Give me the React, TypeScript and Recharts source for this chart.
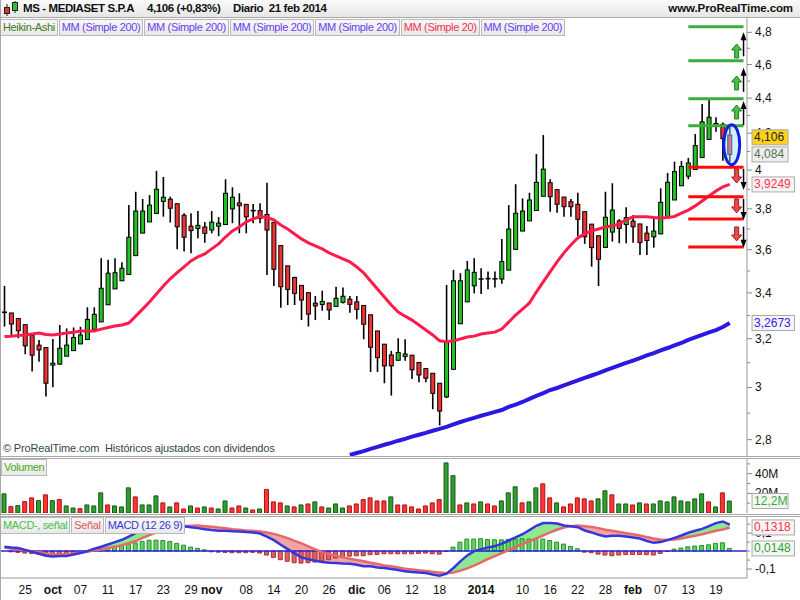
import React from 'react';
import {
  ComposedChart,
  Bar,
  Line,
  Area,
  XAxis,
  YAxis,
  ReferenceLine,
  ReferenceDot,
  Cell,
} from 'recharts';

// trading days, 20 sep 2013 -> 21 feb 2014
const dates = [
  '09-20', '09-23', '09-24', '09-25', '09-26', '09-27', '09-30',
  '10-01', '10-02', '10-03', '10-04', '10-07', '10-08', '10-09', '10-10', '10-11', '10-14', '10-15', '10-16',
  '10-17', '10-18', '10-21', '10-22', '10-23', '10-24', '10-25', '10-28', '10-29', '10-30', '10-31',
  '11-01', '11-04', '11-05', '11-06', '11-07', '11-08', '11-11', '11-12', '11-13', '11-14', '11-15',
  '11-18', '11-19', '11-20', '11-21', '11-22', '11-25', '11-26', '11-27', '11-28', '11-29',
  '12-02', '12-03', '12-04', '12-05', '12-06', '12-09', '12-10', '12-11', '12-12', '12-13',
  '12-16', '12-17', '12-18', '12-19', '12-20', '12-23', '12-27', '12-30',
  '01-02', '01-03', '01-06', '01-07', '01-08', '01-09', '01-10', '01-13', '01-14', '01-15', '01-16', '01-17',
  '01-20', '01-21', '01-22', '01-23', '01-24', '01-27', '01-28', '01-29', '01-30', '01-31',
  '02-03', '02-04', '02-05', '02-06', '02-07', '02-10', '02-11', '02-12', '02-13', '02-14',
  '02-17', '02-18', '02-19', '02-20', '02-21',
];

// Heikin-Ashi candles
const open = [
  3.314, 3.311, 3.287, 3.260, 3.215, 3.173, 3.163, 3.090, 3.094, 3.127,
  3.150, 3.178, 3.197, 3.240, 3.272, 3.347, 3.418, 3.455, 3.484, 3.572,
  3.680, 3.735, 3.777, 3.838, 3.849, 3.826, 3.768, 3.714, 3.703, 3.710,
  3.695, 3.714, 3.722, 3.800, 3.830, 3.823, 3.791, 3.791, 3.772, 3.733,
  3.620, 3.524, 3.470, 3.434, 3.401, 3.354, 3.348, 3.355, 3.340, 3.358,
  3.372, 3.360, 3.344, 3.303, 3.233, 3.177, 3.132, 3.110, 3.126, 3.131,
  3.101, 3.076, 3.057, 3.017, 2.963, 3.073, 3.264, 3.360, 3.432, 3.463,
  3.463, 3.464, 3.463, 3.504, 3.602, 3.690, 3.740, 3.792, 3.864, 3.934,
  3.898, 3.860, 3.836, 3.823, 3.786, 3.724, 3.667, 3.611, 3.685, 3.740,
  3.722, 3.739, 3.725, 3.680, 3.662, 3.676, 3.755, 3.845, 3.918, 3.968,
  4.003, 4.067, 4.166, 4.245, 4.250, 4.190,
];
const close = [
  3.314, 3.263, 3.234, 3.170, 3.131, 3.153, 3.017, 3.098, 3.160, 3.173,
  3.205, 3.216, 3.283, 3.305, 3.421, 3.490, 3.492, 3.513, 3.660, 3.789,
  3.789, 3.819, 3.900, 3.859, 3.803, 3.711, 3.660, 3.692, 3.718, 3.679,
  3.734, 3.729, 3.879, 3.859, 3.816, 3.760, 3.791, 3.753, 3.695, 3.508,
  3.428, 3.416, 3.398, 3.368, 3.306, 3.342, 3.362, 3.324, 3.376, 3.385,
  3.349, 3.327, 3.262, 3.164, 3.121, 3.087, 3.087, 3.142, 3.136, 3.071,
  3.050, 3.037, 2.977, 2.908, 3.184, 3.455, 3.455, 3.505, 3.494, 3.462,
  3.465, 3.462, 3.544, 3.700, 3.778, 3.789, 3.845, 3.936, 4.005, 3.862,
  3.823, 3.811, 3.811, 3.748, 3.662, 3.610, 3.555, 3.758, 3.794, 3.703,
  3.756, 3.711, 3.634, 3.644, 3.690, 3.833, 3.936, 3.992, 4.019, 4.038,
  4.132, 4.264, 4.290, 4.255, 4.170, 4.084,
];
const high = [
  3.432, 3.311, 3.287, 3.260, 3.223, 3.195, 3.163, 3.199, 3.259, 3.244,
  3.248, 3.251, 3.336, 3.336, 3.560, 3.552, 3.560, 3.541, 3.819, 3.887,
  3.850, 3.870, 3.996, 3.964, 3.862, 3.826, 3.778, 3.778, 3.789, 3.734,
  3.789, 3.759, 3.952, 3.910, 3.879, 3.823, 3.824, 3.828, 3.934, 3.733,
  3.620, 3.524, 3.474, 3.434, 3.401, 3.386, 3.410, 3.355, 3.428, 3.425,
  3.386, 3.386, 3.344, 3.303, 3.233, 3.177, 3.149, 3.202, 3.198, 3.131,
  3.101, 3.076, 3.057, 3.017, 3.436, 3.505, 3.490, 3.547, 3.560, 3.513,
  3.498, 3.498, 3.651, 3.819, 3.926, 3.853, 3.882, 4.086, 4.190, 3.952,
  3.898, 3.860, 3.850, 3.882, 3.786, 3.724, 3.667, 3.887, 3.931, 3.749,
  3.808, 3.769, 3.725, 3.715, 3.762, 3.905, 3.985, 4.045, 4.049, 4.065,
  4.196, 4.366, 4.389, 4.290, 4.260, 4.240,
];
const low = [
  3.252, 3.215, 3.202, 3.135, 3.064, 3.104, 2.964, 3.001, 3.094, 3.127,
  3.150, 3.178, 3.197, 3.240, 3.272, 3.347, 3.418, 3.455, 3.484, 3.572,
  3.680, 3.735, 3.777, 3.761, 3.732, 3.602, 3.591, 3.583, 3.655, 3.634,
  3.679, 3.665, 3.722, 3.729, 3.679, 3.679, 3.729, 3.729, 3.482, 3.431,
  3.334, 3.346, 3.346, 3.280, 3.252, 3.280, 3.321, 3.280, 3.340, 3.353,
  3.312, 3.283, 3.198, 3.062, 3.062, 3.017, 2.968, 3.110, 3.108, 3.034,
  3.021, 3.021, 2.915, 2.853, 2.958, 3.073, 3.264, 3.360, 3.398, 3.395,
  3.416, 3.425, 3.441, 3.504, 3.602, 3.690, 3.740, 3.792, 3.864, 3.786,
  3.781, 3.761, 3.761, 3.665, 3.628, 3.520, 3.431, 3.611, 3.639, 3.631,
  3.631, 3.634, 3.575, 3.575, 3.610, 3.676, 3.755, 3.845, 3.918, 3.952,
  4.003, 4.067, 4.166, 4.208, 4.050, 4.045,
];

const mm20 = [
  3.209, 3.211, 3.214, 3.216, 3.220, 3.224, 3.218, 3.216, 3.220, 3.224,
  3.228, 3.233, 3.233, 3.233, 3.241, 3.248, 3.254, 3.259, 3.267, 3.297,
  3.328, 3.359, 3.395, 3.431, 3.464, 3.492, 3.519, 3.547, 3.566, 3.580,
  3.604, 3.628, 3.661, 3.691, 3.710, 3.735, 3.750, 3.762, 3.757, 3.745,
  3.720, 3.700, 3.676, 3.652, 3.633, 3.618, 3.604, 3.585, 3.571, 3.557,
  3.543, 3.519, 3.492, 3.454, 3.418, 3.382, 3.346, 3.315, 3.297, 3.280,
  3.259, 3.237, 3.216, 3.191, 3.187, 3.191, 3.199, 3.207, 3.211, 3.220,
  3.224, 3.228, 3.241, 3.271, 3.302, 3.328, 3.355, 3.404, 3.450, 3.496,
  3.543, 3.585, 3.623, 3.657, 3.676, 3.691, 3.700, 3.710, 3.715, 3.725,
  3.745, 3.760, 3.760, 3.760, 3.757, 3.755, 3.757, 3.762, 3.779, 3.794,
  3.815, 3.840, 3.865, 3.891, 3.912, 3.925,
];
// only the visible part of the 200-day average
const mm200 = [
  null, null, null, null, null, null, null, null, null, null,
  null, null, null, null, null, null, null, null, null, null,
  null, null, null, null, null, null, null, null, null, null,
  null, null, null, null, null, null, null, null, null, null,
  null, null, null, null, null, null, null, null, null, null,
  2.744, 2.751, 2.758, 2.766, 2.773, 2.781, 2.788, 2.796, 2.803, 2.811,
  2.818, 2.825, 2.833, 2.840, 2.848, 2.857, 2.866, 2.874, 2.882, 2.890,
  2.897, 2.905, 2.912, 2.924, 2.933, 2.943, 2.955, 2.967, 2.978, 2.990,
  2.998, 3.008, 3.018, 3.028, 3.038, 3.048, 3.058, 3.069, 3.079, 3.089,
  3.099, 3.109, 3.119, 3.130, 3.140, 3.151, 3.161, 3.172, 3.182, 3.195,
  3.206, 3.216, 3.227, 3.237, 3.250, 3.267,
];

// volume in millions
const volume = [
  19.5, 6.5, 7.5, 11.6, 15.4, 12.6, 18.5, 12.6, 13.7, 7.2,
  5.1, 4.4, 8.2, 7.2, 20.5, 8.2, 7.2, 6.2, 25.6, 16.4,
  8.2, 8.2, 17.4, 10.3, 6.2, 10.3, 4.1, 7.2, 5.1, 6.2,
  5.1, 4.1, 12.3, 5.1, 7.2, 5.1, 3.1, 4.1, 24.0, 11.3,
  10.3, 7.2, 6.2, 8.2, 9.2, 11.3, 6.2, 5.1, 9.2, 5.1,
  7.2, 9.2, 13.7, 15.4, 12.3, 12.3, 16.4, 8.2, 8.2, 6.2,
  4.1, 7.2, 10.3, 13.7, 51.0, 38.0, 8.2, 10.3, 9.2, 11.3,
  9.2, 7.2, 12.3, 20.5, 26.7, 10.3, 11.3, 25.6, 29.7, 15.4,
  10.3, 6.2, 9.2, 15.4, 14.4, 12.3, 14.4, 22.6, 18.5, 9.2,
  9.2, 8.2, 10.3, 9.2, 9.2, 12.3, 11.3, 16.4, 12.3, 11.3,
  14.4, 19.5, 11.3, 6.2, 20.5, 12.2,
];
const volDir = [
  'G', 'R', 'G', 'R', 'R', 'G', 'R', 'G', 'R', 'G',
  'G', 'R', 'G', 'G', 'G', 'R', 'G', 'G', 'G', 'R',
  'G', 'G', 'G', 'R', 'G', 'R', 'R', 'G', 'R', 'G',
  'R', 'G', 'G', 'R', 'R', 'G', 'R', 'G', 'R', 'R',
  'R', 'G', 'R', 'G', 'R', 'G', 'R', 'G', 'G', 'G',
  'R', 'R', 'R', 'R', 'R', 'R', 'G', 'R', 'R', 'R',
  'R', 'R', 'R', 'R', 'G', 'G', 'R', 'G', 'R', 'G',
  'R', 'R', 'G', 'G', 'G', 'R', 'G', 'G', 'R', 'R',
  'G', 'R', 'R', 'R', 'R', 'R', 'G', 'G', 'R', 'G',
  'G', 'R', 'G', 'R', 'G', 'G', 'G', 'G', 'G', 'G',
  'G', 'G', 'R', 'G', 'R', 'G',
];

// MACD (12 26 9)
const macd = [
  0.024, 0.020, 0.017, 0.007, -0.004, -0.015, -0.026, -0.030, -0.028, -0.028,
  -0.019, -0.011, 0.000, 0.013, 0.024, 0.037, 0.050, 0.063, 0.081, 0.100,
  0.115, 0.130, 0.141, 0.148, 0.146, 0.144, 0.139, 0.133, 0.128, 0.122,
  0.117, 0.113, 0.113, 0.111, 0.109, 0.107, 0.104, 0.098, 0.081, 0.061,
  0.035, 0.011, -0.013, -0.035, -0.046, -0.054, -0.061, -0.065, -0.067, -0.069,
  -0.070, -0.076, -0.085, -0.085, -0.091, -0.094, -0.100, -0.106, -0.113, -0.117,
  -0.120, -0.122, -0.130, -0.137, -0.126, -0.094, -0.057, -0.024, 0.000, 0.011,
  0.020, 0.028, 0.041, 0.059, 0.076, 0.094, 0.117, 0.141, 0.156, 0.157,
  0.154, 0.143, 0.139, 0.133, 0.115, 0.104, 0.091, 0.081, 0.085, 0.085,
  0.081, 0.076, 0.070, 0.056, 0.046, 0.050, 0.061, 0.074, 0.087, 0.102,
  0.113, 0.124, 0.139, 0.156, 0.165, 0.147,
];
const signal = [
  0.020, 0.015, 0.009, 0.004, -0.002, -0.007, -0.013, -0.017, -0.019, -0.017,
  -0.015, -0.009, -0.004, 0.004, 0.009, 0.017, 0.024, 0.033, 0.044, 0.056,
  0.074, 0.089, 0.104, 0.119, 0.126, 0.135, 0.139, 0.141, 0.143, 0.139,
  0.135, 0.131, 0.128, 0.122, 0.119, 0.115, 0.113, 0.109, 0.104, 0.096,
  0.085, 0.072, 0.057, 0.043, 0.026, 0.009, -0.006, -0.017, -0.026, -0.035,
  -0.043, -0.050, -0.057, -0.065, -0.072, -0.080, -0.085, -0.091, -0.098, -0.102,
  -0.107, -0.111, -0.115, -0.120, -0.124, -0.119, -0.109, -0.096, -0.081, -0.063,
  -0.044, -0.028, -0.011, 0.006, 0.022, 0.039, 0.054, 0.070, 0.087, 0.104,
  0.119, 0.131, 0.139, 0.143, 0.139, 0.135, 0.128, 0.119, 0.113, 0.106,
  0.100, 0.094, 0.087, 0.078, 0.070, 0.063, 0.063, 0.065, 0.070, 0.078,
  0.085, 0.094, 0.104, 0.113, 0.120, 0.1318,
];
const hist = [
  0.000, -0.004, -0.007, -0.011, -0.013, -0.017, -0.020, -0.022, -0.022, -0.020,
  -0.017, -0.011, -0.004, 0.009, 0.015, 0.020, 0.026, 0.031, 0.039, 0.046,
  0.054, 0.061, 0.061, 0.059, 0.054, 0.043, 0.033, 0.022, 0.015, 0.007,
  -0.004, -0.006, -0.007, -0.009, -0.009, -0.009, -0.007, -0.011, -0.022, -0.035,
  -0.048, -0.057, -0.065, -0.067, -0.065, -0.061, -0.056, -0.048, -0.039, -0.033,
  -0.028, -0.026, -0.026, -0.020, -0.019, -0.015, -0.015, -0.015, -0.015, -0.015,
  -0.013, -0.011, -0.015, -0.017, -0.002, 0.022, 0.050, 0.067, 0.067, 0.069,
  0.065, 0.063, 0.063, 0.065, 0.067, 0.069, 0.067, 0.069, 0.067, 0.059,
  0.050, 0.039, 0.026, 0.013, -0.006, -0.009, -0.017, -0.022, -0.026, -0.022,
  -0.019, -0.019, -0.019, -0.020, -0.022, -0.013, -0.002, 0.011, 0.017, 0.024,
  0.028, 0.031, 0.035, 0.043, 0.046, 0.0148,
];

const tickDates = [
  '09-25', '10-01', '10-07', '10-11', '10-17', '10-23', '10-29', '11-01', '11-08', '11-14', '11-20',
  '11-26', '12-02', '12-06', '12-12', '12-18', '01-02', '01-10', '01-16', '01-22', '01-28', '02-03',
  '02-07', '02-13', '02-19',
];
const tickTexts = [
  '25', 'oct', '07', '11', '17', '23', '29', 'nov', '08', '14', '20',
  '26', 'dic', '06', '12', '18', '2014', '10', '16', '22', '28', 'feb',
  '07', '13', '19',
];
const boldTicks = ['oct', 'nov', 'dic', '2014', 'feb'];

const priceMajor = [2.8, 3, 3.2, 3.4, 3.6, 3.8, 4, 4.2, 4.4, 4.6, 4.8];
const priceMinor = [2.9, 3.1, 3.3, 3.5, 3.7, 3.9, 4.1, 4.3, 4.5, 4.7];

// drawn objects on the right side
const greenLevels = [4.836, 4.623, 4.396, 4.242];
const redLevels = [4.015, 3.862, 3.749, 3.613];
const upArrows = [4.683, 4.489, 4.32];
const downArrows = [3.969, 3.815, 3.676];
const blackUpTips = [4.8, 4.58, 4.383];
const blackDownTips = [3.896, 3.745, 3.61];

const GREEN = '#22c422';
const RED = '#f23232';
const FONT = '"Liberation Sans", Arial, sans-serif';
const PRICE_DOMAIN = [2.74, 4.892];
const VOL_DOMAIN = [0, 55];
const MACD_DOMAIN = [-0.15, 0.19];

const rows: any[] = [...dates, 'pad1', 'pad2'].map((d, i) => {
  if (i >= dates.length) return { d };
  const m = macd[i];
  const s = signal[i];
  return {
    d,
    o: open[i],
    h: high[i],
    l: low[i],
    c: close[i],
    hl: [low[i], high[i]],
    mm20: mm20[i],
    mm200: mm200[i],
    vol: volume[i],
    volUp: volDir[i] === 'G',
    macd: m,
    signal: s,
    hist: hist[i],
    upBand: m >= s ? [s, m] : [s, s],
    downBand: m < s ? [m, s] : [s, s],
  };
});

const fmt = (v: number) => String(v).replace('.', ',');

const Candle = (props: any) => {
  const { x, width, payload } = props;
  if (!payload || payload.o == null) return null;
  const y0 = Math.min(props.y, props.y + props.height);
  const hh = Math.abs(props.height);
  const { o, h, l, c } = payload;
  const span = Math.log(h) - Math.log(l);
  const yOf = (v: number) => (span > 0 ? y0 + (hh * (Math.log(h) - Math.log(v))) / span : y0);
  const cx = x + width / 2;
  const top = yOf(Math.max(o, c));
  const bot = yOf(Math.min(o, c));
  return (
    <g>
      <line x1={cx} x2={cx} y1={y0} y2={y0 + hh} stroke="#000" strokeWidth={1.6} />
      {bot - top < 1.5 ? (
        <line x1={x} x2={x + width} y1={top} y2={top} stroke="#000" strokeWidth={1.6} />
      ) : (
        <rect x={x + 0.5} y={top} width={width - 1} height={bot - top} fill={c >= o ? GREEN : RED} stroke="#000" strokeWidth={1} />
      )}
    </g>
  );
};

const PriceTick = ({ x, y, payload }: any) => {
  const v = payload.value;
  const major = priceMajor.includes(v);
  return (
    <g>
      <line x1={x} x2={x + (major ? 5 : 3)} y1={y} y2={y} stroke="#888" />
      {major && (
        <text x={x + 8} y={y + 4} fontSize={12} fontFamily={FONT} fill="#111">
          {fmt(v)}
        </text>
      )}
    </g>
  );
};

const makeTick = (labels: Record<string, string>) => ({ x, y, payload }: any) => {
  const t = labels[String(payload.value)];
  return (
    <g>
      <line x1={x} x2={x + (t ? 5 : 3)} y1={y} y2={y} stroke="#888" />
      {t && (
        <text x={x + 8} y={y + 4} fontSize={12} fontFamily={FONT} fill="#111">
          {t}
        </text>
      )}
    </g>
  );
};
const VolTick = makeTick({ '20': '20M', '40': '40M' });
const MacdTick = makeTick({ '0.1': '0,1', '-0.1': '-0,1' });

const DateTick = ({ x, y, payload }: any) => {
  const t = tickTexts[tickDates.indexOf(payload.value)];
  return (
    <text x={x} y={y + 16} textAnchor="middle" fontSize={12} fontFamily={FONT} fontWeight={boldTicks.includes(t) ? 'bold' : 'normal'} fill="#111">
      {t}
    </text>
  );
};

// value tag drawn next to the right axis
const tag = (text: string, color: string, bg: string, dy = 0) => (p: any) => {
  const w = text.length * 6.4 + 4;
  return (
    <g>
      <rect x={p.cx + 8.5} y={p.cy - 7.5 + dy} width={w} height={15} fill={bg} stroke="#aaa" />
      <text x={p.cx + 10.5} y={p.cy + 4 + dy} fontSize={12} fontFamily={FONT} fill={color}>
        {text}
      </text>
    </g>
  );
};

const FatUp = (p: any) => {
  const { cx, cy } = p;
  const pts = [[0, -7], [5, -1], [2, -1], [2, 7], [-2, 7], [-2, -1], [-5, -1]];
  return <polygon points={pts.map(([a, b]) => `${cx + a},${cy + b}`).join(' ')} fill="#46c046" stroke="#1f7a1f" />;
};
const FatDown = (p: any) => {
  const { cx, cy } = p;
  const pts = [[0, 7], [5, 1], [2, 1], [2, -7], [-2, -7], [-2, 1], [-5, 1]];
  return <polygon points={pts.map(([a, b]) => `${cx + a},${cy + b}`).join(' ')} fill="#ee4848" stroke="#a01e1e" />;
};
const BlackUp = (p: any) => (
  <g>
    <line x1={p.cx} x2={p.cx} y1={p.cy + 4} y2={p.cy + 24} stroke="#000" strokeWidth={1.5} />
    <polygon points={`${p.cx},${p.cy} ${p.cx - 3},${p.cy + 8} ${p.cx + 3},${p.cy + 8}`} fill="#000" />
  </g>
);
const BlackDown = (p: any) => (
  <g>
    <line x1={p.cx} x2={p.cx} y1={p.cy - 4} y2={p.cy - 21} stroke="#000" strokeWidth={1.5} />
    <polygon points={`${p.cx},${p.cy} ${p.cx - 3},${p.cy - 8} ${p.cx + 3},${p.cy - 8}`} fill="#000" />
  </g>
);
const Ellipse = (p: any) => (
  <ellipse cx={p.cx + 2} cy={p.cy} rx={8} ry={20} fill="#9fdcff" fillOpacity={0.45} stroke="#1020e0" strokeWidth={3} />
);

// transparent chart laid over a panel so the value tags sit above the axis labels
const TagLayer = ({ top, height, margin, domain, scale, children }: any) => (
  <div style={{ position: 'absolute', left: 0, top, pointerEvents: 'none' }}>
    <ComposedChart width={800} height={height} data={rows} margin={{ ...margin, left: 1, right: 53 }}>
      <XAxis dataKey="d" hide />
      <YAxis hide type="number" scale={scale} domain={domain} allowDataOverflow />
      <Bar dataKey="none" isAnimationActive={false} />
      {children}
    </ComposedChart>
  </div>
);

const box: React.CSSProperties = {
  border: '1px solid #b9b9b9',
  background: 'linear-gradient(#f8f8f8, #e8e8e8)',
  fontSize: 11,
  letterSpacing: -0.35,
  padding: '0 2px',
  height: 15,
  lineHeight: '15px',
  whiteSpace: 'nowrap',
};

const title: React.CSSProperties = {
  position: 'absolute',
  top: 2,
  fontSize: 11.5,
  letterSpacing: -0.4,
  fontWeight: 'bold',
  color: '#111',
  whiteSpace: 'nowrap',
};

const hline = (top: number): React.CSSProperties => ({
  position: 'absolute',
  left: 0,
  top,
  width: 800,
  height: 1,
  background: '#a8a8a8',
});

export default function App() {
  return (
    <div style={{ position: 'absolute', left: 0, top: 0, width: 800, height: 600, background: '#fff', fontFamily: FONT, overflow: 'hidden' }}>
      {/* header */}
      <div style={{ position: 'absolute', left: 0, top: 0, width: 800, height: 17, background: 'linear-gradient(#fbfbfb, #e6e6e6)' }}>
        <svg width={20} height={17} style={{ position: 'absolute', left: 2, top: 0 }}>
          <line x1={5} x2={5} y1={4} y2={16} stroke="#222" />
          <rect x={2.5} y={7.5} width={5} height={6} fill="#e03030" stroke="#222" />
          <line x1={13} x2={13} y1={1} y2={13} stroke="#222" />
          <rect x={10.5} y={2.5} width={5} height={8} fill="#30c030" stroke="#222" />
        </svg>
        <span style={{ ...title, left: 23 }}>MS - MEDIASET S.P.A</span>
        <span style={{ ...title, left: 147 }}>4,106 (+0,83%)</span>
        <span style={{ ...title, left: 233 }}>Diario&nbsp; 21 feb 2014</span>
        <span style={{ ...title, left: undefined, right: 7, letterSpacing: -0.1 }}>www.ProRealTime.com</span>
      </div>
      <div style={hline(17)} />

      {/* price panel */}
      <div style={{ position: 'absolute', left: 0, top: 18 }}>
        <ComposedChart width={800} height={438} data={rows} margin={{ top: 0, right: 0, bottom: 0, left: 1 }}>
          <XAxis dataKey="d" hide />
          <YAxis
            orientation="right"
            width={53}
            type="number"
            scale="log"
            domain={PRICE_DOMAIN}
            allowDataOverflow
            ticks={[...priceMajor, ...priceMinor]}
            interval={0}
            tick={<PriceTick />}
            tickLine={false}
            tickSize={0}
            tickMargin={0}
            axisLine={{ stroke: '#999' }}
          />
          <Bar dataKey="hl" barSize={5} shape={(p: any) => <Candle {...p} />} isAnimationActive={false} />
          <Line dataKey="mm20" type="linear" stroke="#ff1c4c" strokeWidth={3} dot={false} activeDot={false} isAnimationActive={false} />
          <Line dataKey="mm200" type="linear" stroke="#2c18e0" strokeWidth={4} dot={false} activeDot={false} isAnimationActive={false} />
          {greenLevels.map((v) => (
            <ReferenceLine key={'g' + v} segment={[{ x: '02-13', y: v }, { x: 'pad2', y: v }]} stroke="#3aad3a" strokeWidth={3} />
          ))}
          {redLevels.map((v) => (
            <ReferenceLine key={'r' + v} segment={[{ x: '02-13', y: v }, { x: 'pad2', y: v }]} stroke="#ff0a0a" strokeWidth={3} />
          ))}
          {upArrows.map((v) => (
            <ReferenceDot key={'u' + v} x="pad1" y={v} shape={(p: any) => <FatUp {...p} />} />
          ))}
          {downArrows.map((v) => (
            <ReferenceDot key={'d' + v} x="pad1" y={v} shape={(p: any) => <FatDown {...p} />} />
          ))}
          {blackUpTips.map((v) => (
            <ReferenceDot key={'bu' + v} x="pad2" y={v} shape={(p: any) => <BlackUp {...p} />} />
          ))}
          {blackDownTips.map((v) => (
            <ReferenceDot key={'bd' + v} x="pad2" y={v} shape={(p: any) => <BlackDown {...p} />} />
          ))}
          <ReferenceDot x="02-21" y={4.137} shape={(p: any) => <Ellipse {...p} />} />
        </ComposedChart>
      </div>
      <TagLayer top={18} height={438} margin={{ top: 0, bottom: 0 }} domain={PRICE_DOMAIN} scale="log">
        <ReferenceDot x="pad2" y={4.106} shape={tag('4,106', '#222', '#ffd21a', -13)} />
        <ReferenceDot x="pad2" y={4.084} shape={tag('4,084', '#5a6e5a', '#eeeeee')} />
        <ReferenceDot x="pad2" y={3.9249} shape={tag('3,9249', '#ff3050', '#f6f6f6')} />
        <ReferenceDot x="pad2" y={3.2673} shape={tag('3,2673', '#3322ee', '#f6f6f6')} />
      </TagLayer>

      {/* legend of the price panel */}
      <div style={{ position: 'absolute', left: 0, top: 19, display: 'flex', gap: 1 }}>
        <div style={{ ...box, color: '#3d7a1a' }}>Heikin-Ashi</div>
        <div style={{ ...box, color: '#6a3cf0' }}>MM (Simple 200)</div>
        <div style={{ ...box, color: '#6a3cf0' }}>MM (Simple 200)</div>
        <div style={{ ...box, color: '#6a3cf0' }}>MM (Simple 200)</div>
        <div style={{ ...box, color: '#6a3cf0' }}>MM (Simple 200)</div>
        <div style={{ ...box, color: '#f0304a' }}>MM (Simple 20)</div>
        <div style={{ ...box, color: '#6a3cf0' }}>MM (Simple 200)</div>
      </div>
      <div style={{ position: 'absolute', left: 3, top: 442, fontSize: 11, letterSpacing: -0.15, color: '#34444e', whiteSpace: 'nowrap' }}>
        © ProRealTime.com&nbsp; Históricos ajustados con dividendos
      </div>
      <div style={hline(456)} />
      <div style={hline(458)} />

      {/* volume panel */}
      <div style={{ position: 'absolute', left: 0, top: 457 }}>
        <ComposedChart width={800} height={57} data={rows} margin={{ top: 2, right: 0, bottom: 1, left: 1 }}>
          <XAxis dataKey="d" hide />
          <YAxis
            orientation="right"
            width={53}
            type="number"
            domain={VOL_DOMAIN}
            allowDataOverflow
            ticks={[10, 20, 30, 40, 50]}
            interval={0}
            tick={<VolTick />}
            tickLine={false}
            tickSize={0}
            tickMargin={0}
            axisLine={{ stroke: '#999' }}
          />
          <Bar dataKey="vol" barSize={4} strokeWidth={1} isAnimationActive={false}>
            {rows.map((r, i) => (
              <Cell key={i} fill={r.volUp ? '#2fa02f' : '#ff3434'} stroke={r.volUp ? '#145a14' : '#a81414'} />
            ))}
          </Bar>
        </ComposedChart>
      </div>
      <TagLayer top={457} height={57} margin={{ top: 2, bottom: 1 }} domain={VOL_DOMAIN} scale="linear">
        <ReferenceDot x="pad2" y={12.2} shape={tag('12,2M', '#3aa83a', '#f6f6f6')} />
      </TagLayer>
      <div style={{ position: 'absolute', left: 1, top: 459, display: 'flex' }}>
        <div style={{ ...box, color: '#4aaa20' }}>Volumen</div>
      </div>
      <div style={hline(514)} />
      <div style={hline(516)} />

      {/* MACD panel */}
      <div style={{ position: 'absolute', left: 0, top: 516 }}>
        <ComposedChart width={800} height={84} data={rows} margin={{ top: 1, right: 0, bottom: 0, left: 1 }}>
          <XAxis
            dataKey="d"
            ticks={tickDates}
            interval={0}
            height={22}
            tick={<DateTick />}
            tickLine={false}
            tickSize={0}
            tickMargin={0}
            axisLine={{ stroke: '#999' }}
          />
          <YAxis
            orientation="right"
            width={53}
            type="number"
            domain={MACD_DOMAIN}
            allowDataOverflow
            ticks={[-0.1, -0.05, 0, 0.05, 0.1, 0.15]}
            interval={0}
            tick={<MacdTick />}
            tickLine={false}
            tickSize={0}
            tickMargin={0}
            axisLine={{ stroke: '#999' }}
          />
          <Bar dataKey="hist" barSize={4} strokeWidth={1} isAnimationActive={false}>
            {rows.map((r, i) => (
              <Cell key={i} fill={r.hist >= 0 ? '#5ad65a' : '#e06262'} stroke={r.hist >= 0 ? '#2d8c2d' : '#a83030'} />
            ))}
          </Bar>
          <Area dataKey="upBand" type="linear" stroke="none" fill="#8fe88f" fillOpacity={1} activeDot={false} isAnimationActive={false} />
          <Area dataKey="downBand" type="linear" stroke="none" fill="#f2a4a4" fillOpacity={1} activeDot={false} isAnimationActive={false} />
          <ReferenceLine y={0} stroke="#2424e0" strokeWidth={1.5} />
          <Line dataKey="signal" type="linear" stroke="#e46a6a" strokeWidth={2.5} dot={false} activeDot={false} isAnimationActive={false} />
          <Line dataKey="macd" type="linear" stroke="#3636e0" strokeWidth={2.5} dot={false} activeDot={false} isAnimationActive={false} />
        </ComposedChart>
      </div>
      <TagLayer top={516} height={62} margin={{ top: 1, bottom: 0 }} domain={MACD_DOMAIN} scale="linear">
        <ReferenceDot x="pad2" y={0.1318} shape={tag('0,1318', '#ff3050', '#f6f6f6')} />
        <ReferenceDot x="pad2" y={0.0148} shape={tag('0,0148', '#2ea02e', '#f6f6f6')} />
      </TagLayer>
      <div style={{ position: 'absolute', left: 0, top: 517, display: 'flex', gap: 1 }}>
        <div style={{ ...box, color: '#4ac04a' }}>MACD-, señal</div>
        <div style={{ ...box, color: '#e05a5a' }}>Señal</div>
        <div style={{ ...box, color: '#3838d8' }}>MACD (12 26 9)</div>
      </div>
      <div style={{ position: 'absolute', left: 0, top: 0, width: 1, height: 600, background: '#a8a8a8' }} />
    </div>
  );
}
